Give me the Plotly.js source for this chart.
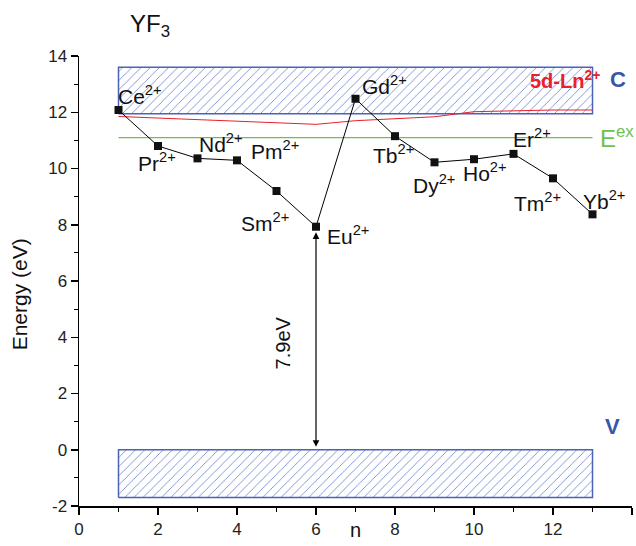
<!DOCTYPE html>
<html>
<head>
<meta charset="utf-8">
<script src="https://cdn.plot.ly/plotly-3.0.1.min.js"></script>
<style>html,body{margin:0;padding:0;background:#fff;}#chart{width:636px;height:546px;}</style>
</head>
<body>
<div id="chart"></div>
<script>
// ---- data ----
const ions = ['Ce','Pr','Nd','Pm','Sm','Eu','Gd','Tb','Dy','Ho','Er','Tm','Yb'];
const nVals = [1,2,3,4,5,6,7,8,9,10,11,12,13];
const energy = [12.08,10.80,10.36,10.29,9.20,7.93,12.48,11.15,10.22,10.33,10.52,9.65,8.37];
const ln5d = [11.85,11.79,11.73,11.67,11.62,11.57,11.70,11.77,11.84,12.02,12.06,12.08,12.08];
const eexLevel = 11.1;
const cbRange = [11.95, 13.6];
const vbRange = [-1.7, 0];
const bandN = [1, 13];
const gapValue = 7.9;
const xTicks = [0,2,4,6,8,10,12,14];
const yTicks = [-2,0,2,4,6,8,10,12,14];
const yTickText = ['-2','0','2','4','6','8','10','12','14'];

// ---- label offsets (pixels) ----
const labelShift = [[-3,15],[-22,-16],[-1,15],[12,10],[-38,-31],[9,-8],[4,14],[-24,-18],[-24,-22],[-13,-13],[-3,16],[-41,-24],[-12,14]];

const FONT = 'Liberation Sans, Arial, sans-serif';
const BLUE = '#3b56a6';
const BANDLINE = '#4a63b8';
const GREEN = '#6fbf4f';

function bandTrace(xr, yr){
  return {
    x:[xr[0],xr[1],xr[1],xr[0],xr[0]],
    y:[yr[0],yr[0],yr[1],yr[1],yr[0]],
    mode:'lines', fill:'toself', type:'scatter',
    line:{color:BANDLINE, width:1.5},
    fillcolor:'rgba(255,255,255,0)',
    fillpattern:{shape:'/', fgcolor:'#4563c4', bgcolor:'#ffffff', size:6.5, solidity:0.1},
    hoverinfo:'skip', showlegend:false
  };
}

const traces = [
  bandTrace(bandN, cbRange),
  bandTrace(bandN, vbRange),
  {x:bandN, y:[eexLevel, eexLevel], mode:'lines', line:{color:GREEN, width:1.2}, showlegend:false},
  {x:nVals, y:ln5d, mode:'lines', line:{color:'#e8202a', width:1}, showlegend:false},
  {x:nVals, y:energy, mode:'lines+markers', line:{color:'#000', width:1},
   marker:{symbol:'square', size:8, color:'#111'}, showlegend:false}
];

const annotations = [];
ions.forEach((ion,i)=>{
  annotations.push({x:nVals[i], y:energy[i], xref:'x', yref:'y', text:ion+'<sup>2+</sup>',
    showarrow:false, xanchor:'left', yanchor:'middle', xshift:labelShift[i][0], yshift:labelShift[i][1],
    font:{family:FONT, size:21, color:'#111'}});
});
// double arrow for gap
const eu = ions.indexOf('Eu');
annotations.push({x:nVals[eu], y:energy[eu]-0.2, ax:nVals[eu], ay:vbRange[1]+0.05, xref:'x', yref:'y', axref:'x', ayref:'y',
  showarrow:true, arrowside:'end+start', arrowhead:2, arrowsize:1.1, arrowwidth:1.2, arrowcolor:'#000', text:''});
annotations.push({x:5.17, y:3.79, xref:'x', yref:'y', text:gapValue.toFixed(1)+'eV', textangle:-90, showarrow:false,
  font:{family:FONT, size:20, color:'#111'}});
annotations.push({x:11.37, y:13.16, xref:'x', yref:'y', text:'<b>5d-Ln<sup>2+</sup></b>', showarrow:false, xanchor:'left', yanchor:'middle',
  font:{family:FONT, size:20, color:'#e8202a'}});
annotations.push({x:13.39, y:13.17, xref:'x', yref:'y', text:'<b>C</b>', showarrow:false, xanchor:'left', yanchor:'middle',
  font:{family:FONT, size:22, color:BLUE}});
annotations.push({x:13.27, y:0.82, xref:'x', yref:'y', text:'<b>V</b>', showarrow:false, xanchor:'left', yanchor:'middle',
  font:{family:FONT, size:22, color:BLUE}});
annotations.push({x:13.15, y:eexLevel+0.02, xref:'x', yref:'y', text:'E<sup>ex</sup>', showarrow:false, xanchor:'left', yanchor:'middle',
  font:{family:FONT, size:24, color:GREEN}});
annotations.push({x:0.088, y:1.068, xref:'paper', yref:'paper', text:'YF<sub>3</sub>', showarrow:false, xanchor:'left', yanchor:'middle',
  font:{family:FONT, size:24, color:'#111'}});
annotations.push({x:-0.107, y:0.47, xref:'paper', yref:'paper', text:'Energy (eV)', textangle:-90, showarrow:false,
  xanchor:'center', yanchor:'middle', font:{family:FONT, size:21, color:'#111'}});
annotations.push({x:0.5, y:-0.054, xref:'paper', yref:'paper', text:'n', showarrow:false,
  xanchor:'center', yanchor:'middle', font:{family:FONT, size:20, color:'#111'}});

const layout = {
  width:636, height:546,
  margin:{l:79, r:4, t:56, b:40},
  paper_bgcolor:'#fff', plot_bgcolor:'#fff',
  font:{family:FONT, size:17, color:'#222'},
  showlegend:false,
  xaxis:{range:[0,14], tickvals:xTicks, showgrid:false, zeroline:false, showline:true, linecolor:'#000', linewidth:1.5,
    ticks:'outside', ticklen:7, tickwidth:1.5, tickcolor:'#000',
    minor:{dtick:1, tick0:0, ticks:'outside', ticklen:4, tickwidth:1.2, tickcolor:'#000', showgrid:false},
    tickfont:{family:FONT, size:17, color:'#222'}},
  yaxis:{range:[-2,14], tickvals:yTicks, ticktext:yTickText, showgrid:false, zeroline:false, showline:true, linecolor:'#000', linewidth:1.5,
    ticks:'outside', ticklen:7, tickwidth:1.5, tickcolor:'#000',
    minor:{dtick:1, tick0:0, ticks:'outside', ticklen:4, tickwidth:1.2, tickcolor:'#000', showgrid:false},
    tickfont:{family:FONT, size:17, color:'#222'}},
  annotations:annotations
};

Plotly.newPlot('chart', traces, layout, {staticPlot:true, displayModeBar:false});
</script>
</body>
</html>
